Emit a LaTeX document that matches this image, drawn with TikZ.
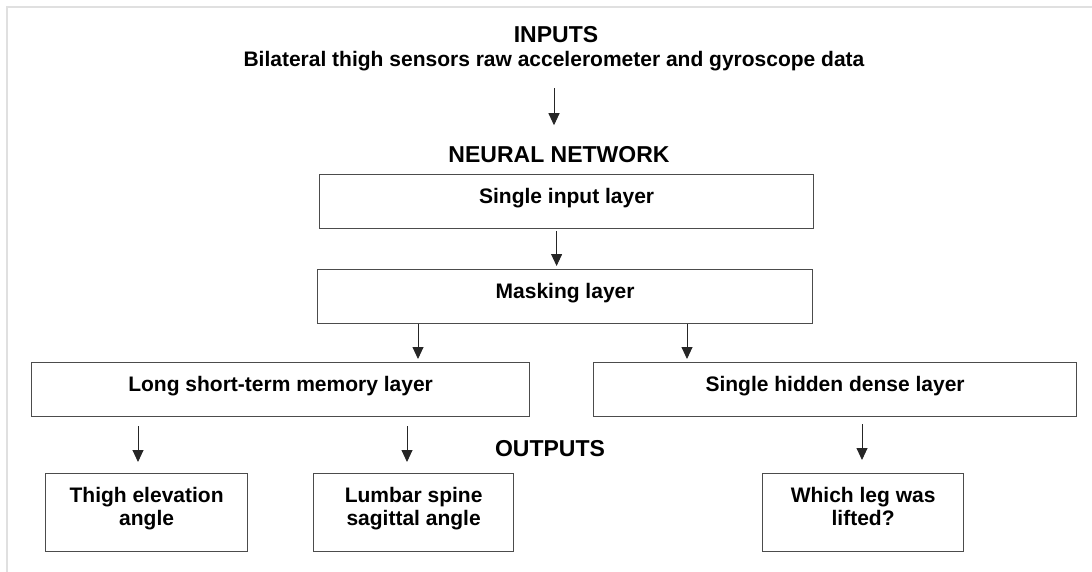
\documentclass[tikz,border=0pt]{standalone}
\usepackage{fontspec}
\setmainfont{Liberation Sans}
\usetikzlibrary{arrows.meta}

\begin{document}
\begin{tikzpicture}[x=1pt,y=-1pt,
  every node/.style={inner sep=0pt, font=\bfseries\fontsize{21}{23}\selectfont},
  heading/.style={font=\bfseries\fontsize{23}{26}\selectfont},
  layerbox/.style={draw=black!70, line width=1.2pt, inner sep=0pt, anchor=north west,
                   minimum height=54pt, text height=28.5pt, text depth=25.5pt},
  % two-line boxes: the reference line of the text is its last line
  outbox/.style={draw=black!70, line width=1.2pt, inner sep=0pt, anchor=north west,
                 align=center, minimum height=78pt, text height=52pt, text depth=26pt},
  flow/.style={-{Triangle[width=11pt,length=12pt]}, line width=0.9pt, black!85},
  frameline/.style={draw=black!12, line width=1.5pt}
]
\useasboundingbox (0,0) rectangle (1092,572);
\draw[frameline] (1092,7) -- (7,7) -- (7,572);

% headings and input description
\node[heading, anchor=base] (inputs) at (556,43) {INPUTS};
\node[anchor=base] (data) at (554,67) {Bilateral thigh sensors raw accelerometer and gyroscope data};
\node[heading, anchor=base] (nn) at (559,163) {NEURAL NETWORK};
\node[heading, anchor=base] (outputs) at (550,456) {OUTPUTS};

% network layers
\node[layerbox, minimum width=494pt] (inp) at (319,174) {Single input layer};
\node[layerbox, minimum width=495pt] (mask) at (317,269) {Masking layer};
\node[layerbox, minimum width=498pt] (lstm) at (31,362) {Long short-term memory layer};
\node[layerbox, minimum width=483pt] (dense) at (593,362) {Single hidden dense layer};

% outputs
\node[outbox, minimum width=202pt] (thigh) at (45,473) {Thigh elevation\\angle};
\node[outbox, minimum width=200pt] (lumbar) at (313,473) {Lumbar spine\\sagittal angle};
\node[outbox, minimum width=201pt] (leg) at (762,473) {Which leg was\\lifted?};

% arrow columns
\coordinate (xl) at (418,0);
\coordinate (xr) at (687,0);
\coordinate (xa) at (138,0);
\coordinate (xb) at (407,0);
\coordinate (xc) at (862,0);

% connectors
\draw[flow, shorten <=16.5pt, shorten >=21.5pt] (data.south) -- (data.south |- nn.north);
\draw[flow, shorten <=2pt, shorten >=3pt] ([xshift=-10pt]inp.south) -- ([xshift=-10pt]inp.south |- mask.north);
\draw[flow, shorten >=3pt] (mask.south -| xl) -- (lstm.north -| xl);
\draw[flow, shorten >=3pt] (mask.south -| xr) -- (dense.north -| xr);
\draw[flow, shorten <=9pt, shorten >=11pt] (lstm.south -| xa) -- (thigh.north -| xa);
\draw[flow, shorten <=9pt, shorten >=11pt] (lstm.south -| xb) -- (lumbar.north -| xb);
\draw[flow, shorten <=7pt, shorten >=13pt] (dense.south -| xc) -- (leg.north -| xc);
\end{tikzpicture}
\end{document}
